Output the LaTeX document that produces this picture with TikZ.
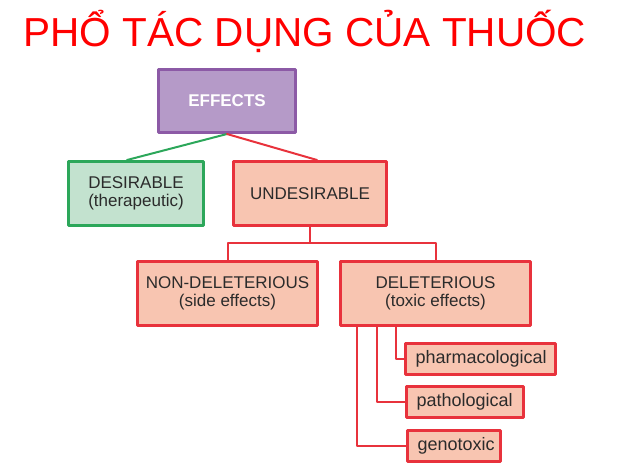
\documentclass[tikz,border=0pt]{standalone}
\usepackage{fontspec}
\setmainfont{Liberation Sans}
\definecolor{titlered}{HTML}{FF0000}
\definecolor{txtgray}{HTML}{2B2B2B}
\definecolor{purpfill}{HTML}{B59AC8}
\definecolor{purpline}{HTML}{8C5AA6}
\definecolor{greenfill}{HTML}{C3E2CF}
\definecolor{greenline}{HTML}{2CA75A}
\definecolor{redfill}{HTML}{F8C5B1}
\definecolor{redline}{HTML}{E8323C}
\begin{document}
\begin{tikzpicture}[x=1pt, y=-1pt, line cap=round, line join=round,
  every node/.style={font=\fontsize{17}{18}\selectfont, text=txtgray},
  box/.style={draw=#1, line width=3pt, align=center, inner sep=0pt, minimum height=64pt},
  leaf/.style={draw=redline, fill=redfill, line width=3pt, align=left, inner xsep=10pt,
    inner ysep=0pt, text width=#1, minimum height=31pt, font=\fontsize{18}{20}\selectfont},
  link/.style={draw=#1, line width=2pt}]
  \useasboundingbox (0,0) rectangle (633,472);

  \node[text=titlered, font=\fontsize{40.5}{44}\selectfont] (title) at (305,31) {PHỔ TÁC DỤNG CỦA THUỐC};

  \node[box=purpline, fill=purpfill, minimum width=137pt, minimum height=63pt,
    text=white, font=\fontsize{17}{18}\selectfont\bfseries] (effects) at (227,101) {EFFECTS};
  \node[box=greenline, fill=greenfill, minimum width=135pt] (desirable) at (136,193.5) {DESIRABLE\\(therapeutic)};
  \node[box=redline, fill=redfill, minimum width=153pt] (undesirable) at (310,193.5) {UNDESIRABLE};
  \node[box=redline, fill=redfill, minimum width=180pt] (nondel) at (227.5,293.5) {NON-DELETERIOUS\\(side effects)};
  \node[box=redline, fill=redfill, minimum width=190pt] (del) at (435.5,293.5) {DELETERIOUS\\(toxic effects)};

  \node[leaf=130pt] (pharm) at (480.5,358.5) {pharmacological};
  \node[leaf=97pt] (patho) at (465,402) {pathological};
  \node[leaf=73pt] (geno) at (454,445.5) {genotoxic};

  \coordinate (dtop) at (127,160);
  \coordinate (utop) at (317,160);

  \draw[link=greenline] (effects.south) -- (dtop);
  \draw[link=redline] (effects.south) -- (utop);
  \draw[link=redline] (undesirable.south) -- ++(0,15.5) coordinate (split);
  \draw[link=redline] (nondel.north) |- (split) -| (del.north);
  \draw[link=redline] ([xshift=18pt]del.south west) |- (geno.west);
  \draw[link=redline] ([xshift=38pt]del.south west) |- (patho.west);
  \draw[link=redline] ([xshift=57pt]del.south west) |- (pharm.west);
\end{tikzpicture}
\end{document}
